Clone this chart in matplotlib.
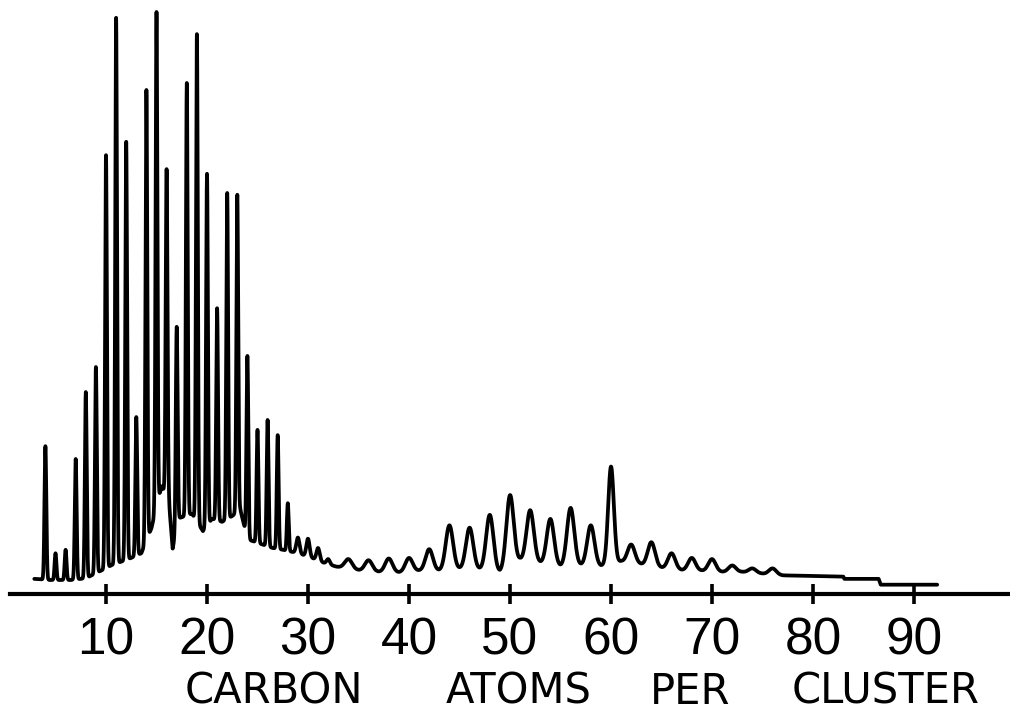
import numpy as np
import matplotlib.pyplot as plt

# Carbon cluster mass spectrum, relative intensity (C15 = 100)
# sharp peaks: every cluster size from C4 to C32
sizes_sharp = list(range(4, 33))
heights_sharp = [25.4, 7.0, 7.6, 23.2, 34.7, 39.0, 75.4, 99.0, 77.7, 30.4,
                 86.6, 100.0, 73.0, 45.9, 87.8, 96.2, 72.2, 49.1, 68.9, 68.6,
                 40.9, 28.2, 29.9, 27.3, 15.6, 9.7, 9.5, 7.9, 6.0]

# broad peaks: even clusters only, C34 to C76
sizes_even = list(range(34, 78, 2))
heights_even = [6.0, 5.8, 6.1, 6.2, 7.7, 11.8, 11.4, 13.6, 17.0, 14.4, 12.9,
                14.8, 11.8, 21.9, 8.5, 8.9, 7.0, 6.2, 6.0, 4.9, 4.4, 4.4]

# background level of the trace between the peaks
bg_n = [2.9, 4.5, 6.5, 8.0, 9.5, 10.5, 12.5, 13.5, 14.5, 15.5, 16.2, 16.6,
        17.2, 18.5, 19.6, 20.5, 21.5, 22.5, 23.3, 24.0, 25.5, 26.5, 27.5,
        28.5, 29.5, 30.5, 31.5, 32.8, 35, 37, 39, 41, 43, 45, 47, 49, 51, 53,
        55, 57, 59, 61, 63, 65, 67, 69, 71, 73, 75, 77, 83, 83.1, 86.5, 86.7,
        92.3]
bg_level = [2.6, 2.4, 2.4, 2.7, 4.0, 4.9, 6.2, 7.0, 11.3, 18.5, 16.4, 7.8,
            13.0, 13.8, 10.8, 12.9, 12.4, 13.4, 14.5, 9.4, 8.5, 7.9, 7.6,
            7.2, 6.7, 6.1, 5.4, 4.7, 4.1, 3.8, 3.7, 4.0, 4.0, 4.3, 4.2, 3.7,
            5.8, 5.3, 4.7, 4.9, 4.8, 5.6, 5.1, 4.5, 4.1, 4.0, 3.8, 3.8, 3.5,
            3.2, 3.0, 2.6, 2.6, 1.6, 1.6]

tick_values = [10, 20, 30, 40, 50, 60, 70, 80, 90]

# axis title is lettered word by word (word, centre x in figure pixels)
title_words = ['CARBON', 'ATOMS', 'PER', 'CLUSTER']
title_x = [274, 519, 690, 886]

# build the trace: background plus a line shape for every peak
n = np.arange(2.9, 92.3, 0.004)
trace = np.interp(n, bg_n, bg_level)
for size, h in zip(sizes_sharp, heights_sharp):
    w = 0.09 if size < 29 else 0.16
    top = h - np.interp(size, bg_n, bg_level)
    trace += top * np.exp(-0.5 * ((n - size) / w) ** 2)
for size, h in zip(sizes_even, heights_even):
    w = 0.28 if size == 60 else 0.36
    top = h - np.interp(size, bg_n, bg_level)
    trace += top * np.exp(-0.5 * ((n - size) / w) ** 2)

W, H = 1010, 723
fig = plt.figure(figsize=(W / 100, H / 100), dpi=100)
axis_px = 594
px_per_unit = 5.82
ax = fig.add_axes([10 / W, (H - axis_px) / H, 1000 / W, axis_px / H])
ax.set_xlim((10 - 5) / 10.1, (1010 - 5) / 10.1)
ax.set_ylim(0, axis_px / px_per_unit)

ax.plot(n, trace, color='black', lw=2.7, solid_joinstyle='round',
        solid_capstyle='round', clip_on=False)

for side in ['top', 'right', 'left']:
    ax.spines[side].set_visible(False)
ax.spines['bottom'].set_linewidth(3.0)
ax.set_yticks([])
ax.set_xticks(tick_values)
ax.set_xticklabels([str(v) for v in tick_values],
                   family=['Liberation Sans', 'DejaVu Sans'], fontsize=37)
ax.tick_params(axis='x', direction='inout', length=15, width=2.6, pad=9)

for word, x in zip(title_words, title_x):
    fig.text(x / W, (H - 692) / H, word, ha='center', va='center',
             fontsize=30, family='DejaVu Sans')

fig.savefig('out.png', dpi=100)
